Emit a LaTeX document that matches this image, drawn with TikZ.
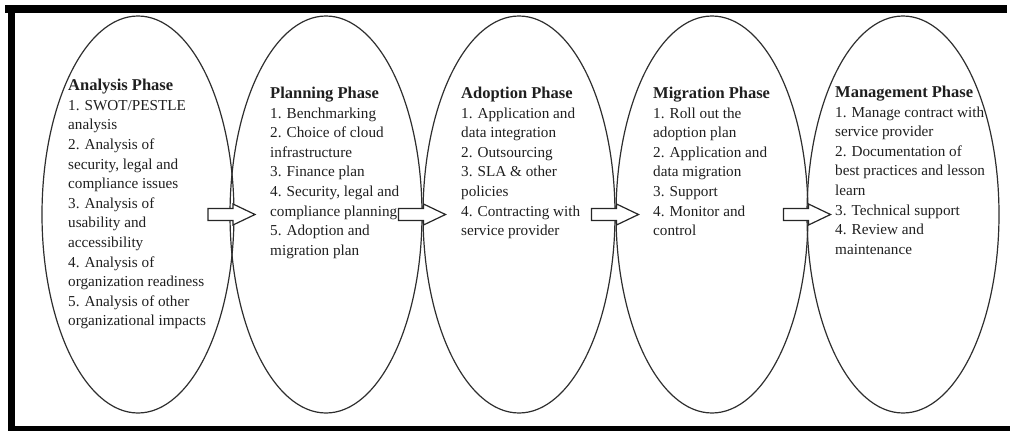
\documentclass[tikz,border=0pt]{standalone}
\usepackage{fontspec}
\setmainfont{Liberation Serif}
\usetikzlibrary{shapes.geometric,calc}
\begin{document}
\begin{tikzpicture}[x=1pt,y=-1pt,
  phase/.style={ellipse, draw=black!82, line width=1.2pt,
    minimum width=192pt, minimum height=397pt, inner sep=0pt},
  phasetext/.style={anchor=north west, inner sep=0pt, align=left,
    text=black!88, font=\fontsize{15.2}{19.6}\selectfont},
  flowarrow/.pic={
    \draw[black!85, line width=1.2pt, fill=white, line join=miter]
      (-24,-6) -- (1,-6) -- (1,-10.5) -- (23,0) -- (1,10.5) -- (1,6) -- (-24,6) -- cycle;}
]
\useasboundingbox (0,0) rectangle (1010,431);

% frame
\fill[black] (5,5) rectangle (1007,13);
\fill[black] (8,5) rectangle (15,431);
\fill[black] (8,426) rectangle (1010,431);

% phases
\node[phase] (analysis)   at (138,214.5) {};
\node[phase] (planning)   at (326,214.5) {};
\node[phase] (adoption)   at (519,214.5) {};
\node[phase] (migration)  at (712,214.5) {};
\node[phase] (management) at (903,214.5) {};

% block arrows between phases
\pic at ($(analysis.east)!0.5!(planning.west)$) {flowarrow};
\pic at ($(planning.east)!0.5!(adoption.west)$) {flowarrow};
\pic at ($(adoption.east)!0.5!(migration.west)$) {flowarrow};
\pic at ($(migration.east)!0.5!(management.west)$) {flowarrow};

\newcommand\phasehead[1]{{\bfseries\fontsize{16.5}{19.6}\selectfont #1}}

\node[phasetext] (analysistext) at (68,79) {\phasehead{Analysis Phase}\\
1. SWOT/PESTLE\\
analysis\\
2. Analysis of\\
security, legal and\\
compliance issues\\
3. Analysis of\\
usability and\\
accessibility\\
4. Analysis of\\
organization readiness\\
5. Analysis of other\\
organizational impacts};

\node[phasetext] (planningtext) at (270,86.8) {\phasehead{Planning Phase}\\
1. Benchmarking\\
2. Choice of cloud\\
infrastructure\\
3. Finance plan\\
4. Security, legal and\\
compliance planning\\
5. Adoption and\\
migration plan};

\node[phasetext] (adoptiontext) at (461,86.8) {\phasehead{Adoption Phase}\\
1. Application and\\
data integration\\
2. Outsourcing\\
3. SLA \& other\\
policies\\
4. Contracting with\\
service provider};

\node[phasetext] (migrationtext) at (653,86.8) {\phasehead{Migration Phase}\\
1. Roll out the\\
adoption plan\\
2. Application and\\
data migration\\
3. Support\\
4. Monitor and\\
control};

\node[phasetext] (managementtext) at (835,85.8) {\phasehead{Management Phase}\\
1. Manage contract with\\
service provider\\
2. Documentation of\\
best practices and lesson\\
learn\\
3. Technical support\\
4. Review and\\
maintenance};
\end{tikzpicture}
\end{document}
